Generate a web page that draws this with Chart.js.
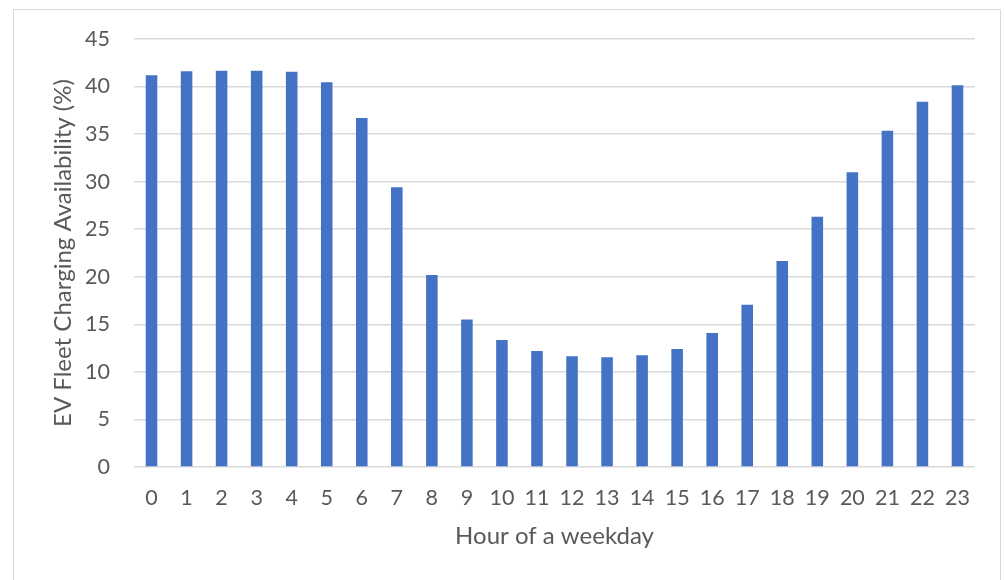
<!DOCTYPE html>
<html>
<head>
<meta charset="utf-8">
<script src="https://cdn.jsdelivr.net/npm/chart.js@4"></script>
<style>
  html, body { margin: 0; padding: 0; background: #fff; }
  .frame {
    position: absolute; left: 13px; top: 9px; width: 988px; height: 580px;
    border: 1.5px solid #d9d9d9; box-sizing: border-box;
  }
  .wrap { position: absolute; left: 0; top: 0; width: 1004px; height: 580px; }
</style>
</head>
<body>
<div class="frame"></div>
<div class="wrap"><canvas id="evChart" width="1004" height="580"></canvas></div>
<script>
const hours = ['0','1','2','3','4','5','6','7','8','9','10','11','12','13','14','15','16','17','18','19','20','21','22','23'];
const availability = [41.2, 41.6, 41.65, 41.65, 41.55, 40.45, 36.7, 29.4, 20.2, 15.5, 13.35, 12.2, 11.65, 11.55, 11.75, 12.4, 14.1, 17.05, 21.65, 26.3, 31.0, 35.35, 38.4, 40.15];
const yTicks = [0, 5, 10, 15, 20, 25, 30, 35, 40, 45];

const textColor = '#595959';
const fontFamily = 'Lato, "Open Sans", sans-serif';

const ctx = document.getElementById('evChart').getContext('2d');
const chart = new Chart(ctx, {
  type: 'bar',
  data: {
    labels: hours,
    datasets: [{
      label: 'EV Fleet Charging Availability (%)',
      data: availability,
      backgroundColor: '#4472c4',
      borderWidth: 0,
      categoryPercentage: 1,
      barPercentage: 0.33
    }]
  },
  options: {
    responsive: false,
    animation: false,
    layout: { padding: { left: 13, right: 29, top: 39, bottom: 0 } },
    plugins: {
      legend: { display: false },
      tooltip: { enabled: false }
    },
    scales: {
      x: {
        afterFit: scale => { scale.height = 113; },
        grid: { display: false, drawTicks: false },
        border: { display: false },
        ticks: { color: textColor, font: { family: fontFamily, size: 21.5 }, padding: 18, maxRotation: 0 },
        title: {
          display: true, text: 'Hour of a weekday', color: textColor,
          font: { family: fontFamily, size: 24 }, padding: { top: 0, bottom: 29 }
        }
      },
      y: {
        min: 0, max: 45,
        afterFit: scale => { scale.width = 121; },
        afterBuildTicks: axis => { axis.ticks = yTicks.map(v => ({ value: v })); },
        grid: { color: '#d9d9d9', lineWidth: 1.5, drawTicks: false },
        border: { display: false },
        ticks: { color: textColor, font: { family: fontFamily, size: 21.5 }, padding: 24 },
        title: {
          display: true, text: 'EV Fleet Charging Availability (%)', color: textColor,
          font: { family: fontFamily, size: 24 }, padding: { top: 36, bottom: 0 }
        }
      }
    }
  }
});
</script>
</body>
</html>
